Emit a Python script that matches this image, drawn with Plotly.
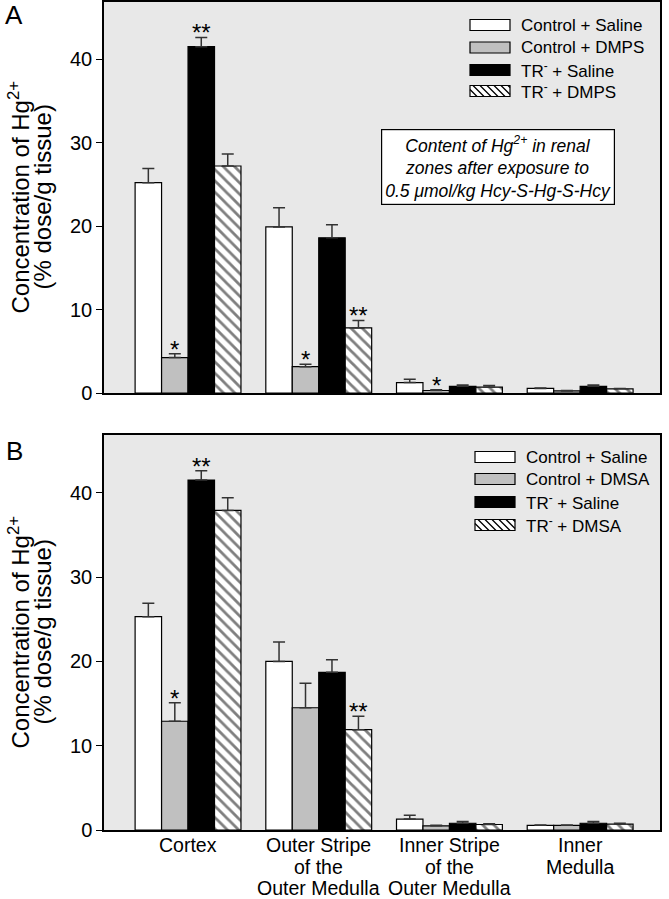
import plotly.graph_objects as go

categories = ["Cortex", "Outer Stripe<br>of the<br>Outer Medulla",
              "Inner Stripe<br>of the<br>Outer Medulla", "Inner<br>Medulla"]
cat_idx = [0, 1, 2, 3]

# Panel A (DMPS)
a_names = ["Control + Saline", "Control + DMPS", "TR<sup>-</sup> + Saline", "TR<sup>-</sup> + DMPS"]
a_ctrl_saline = [25.2, 19.9, 1.25, 0.55]
a_ctrl_saline_err = [1.7, 2.3, 0.4, 0.05]
a_ctrl_dmps = [4.25, 3.15, 0.3, 0.25]
a_ctrl_dmps_err = [0.45, 0.3, 0.1, 0.05]
a_tr_saline = [41.5, 18.6, 0.8, 0.8]
a_tr_saline_err = [1.1, 1.55, 0.15, 0.15]
a_tr_dmps = [27.2, 7.8, 0.7, 0.5]
a_tr_dmps_err = [1.45, 0.9, 0.2, 0.05]
a_stars = [["", "", "", ""], ["*", "*", "*", ""], ["**", "", "", ""], ["", "**", "", ""]]

# Panel B (DMSA)
b_names = ["Control + Saline", "Control + DMSA", "TR<sup>-</sup> + Saline", "TR<sup>-</sup> + DMSA"]
b_ctrl_saline = [25.3, 20.0, 1.3, 0.55]
b_ctrl_saline_err = [1.6, 2.3, 0.45, 0.05]
b_ctrl_dmsa = [12.9, 14.5, 0.5, 0.55]
b_ctrl_dmsa_err = [2.2, 2.9, 0.05, 0.05]
b_tr_saline = [41.5, 18.7, 0.8, 0.8]
b_tr_saline_err = [1.1, 1.5, 0.2, 0.2]
b_tr_dmsa = [37.9, 11.9, 0.65, 0.7]
b_tr_dmsa_err = [1.5, 1.6, 0.1, 0.1]
b_stars = [["", "", "", ""], ["*", "", "", ""], ["**", "", "", ""], ["", "**", "", ""]]

y_ticks = [0, 10, 20, 30, 40]

FONT = "Liberation Sans, Arial, sans-serif"
fills = ["white", "#c0c0c0", "black", "white"]
hatched = [False, False, False, True]

W, H = 669, 899
ML, MR, MT, MB = 104, 9, 2, 69
PW, PH = W - ML - MR, H - MT - MB


def px_x(p):
    return (p - ML) / PW


def px_y(p):
    return (H - MB - p) / PH


fig = go.Figure()

BARGAP = 0.19
nser = 4
bw = (1 - BARGAP) / nser
offsets = [(-(nser - 1) / 2 + j) * bw for j in range(nser)]


def add_panel(names, vals, errs, stars, xa, ya):
    for j in range(4):
        marker = dict(color=fills[j], line=dict(color="black", width=1.2))
        if hatched[j]:
            marker["pattern"] = dict(shape="\\", fgcolor="black", bgcolor="white",
                                     size=8, solidity=0.35)
        fig.add_trace(go.Bar(
            x=cat_idx, y=vals[j], name=names[j], marker=marker,
            xaxis=xa, yaxis=ya, showlegend=False,
            error_y=dict(type="data", symmetric=False, array=errs[j],
                         arrayminus=[0] * 4, color="#333333", thickness=1.5, width=6),
        ))
        for i in range(4):
            if stars[j][i]:
                fig.add_annotation(
                    x=cat_idx[i] + offsets[j], y=vals[j][i] + errs[j][i],
                    xref=xa, yref=ya, text=stars[j][i], showarrow=False,
                    yanchor="bottom", yshift=-11,
                    font=dict(family=FONT, size=24, color="black"))


add_panel(a_names, [a_ctrl_saline, a_ctrl_dmps, a_tr_saline, a_tr_dmps],
          [a_ctrl_saline_err, a_ctrl_dmps_err, a_tr_saline_err, a_tr_dmps_err],
          a_stars, "x", "y")
add_panel(b_names, [b_ctrl_saline, b_ctrl_dmsa, b_tr_saline, b_tr_dmsa],
          [b_ctrl_saline_err, b_ctrl_dmsa_err, b_tr_saline_err, b_tr_dmsa_err],
          b_stars, "x2", "y2")

xr = [-0.643, 3.611]
yr = [0, 46.85]

axis_common = dict(showline=True, linecolor="black", linewidth=1.5, mirror=True,
                   showgrid=False, zeroline=False, automargin=False)

fig.update_layout(
    width=W, height=H,
    margin=dict(l=ML, r=MR, t=MT, b=MB, autoexpand=False),
    paper_bgcolor="white", plot_bgcolor="#e8e8e8",
    barmode="group", bargap=BARGAP, bargroupgap=0,
    font=dict(family=FONT, color="black"),
    showlegend=False,
    xaxis=dict(domain=[0, 1], anchor="y", range=xr, tickvals=cat_idx,
               showticklabels=False, ticks="", **axis_common),
    yaxis=dict(domain=[px_y(393), 1], anchor="x", range=yr, tickvals=y_ticks,
               ticks="outside", ticklen=6, tickcolor="black",
               tickfont=dict(size=20), **axis_common),
    xaxis2=dict(domain=[0, 1], anchor="y2", range=xr, tickvals=cat_idx,
                showticklabels=False, ticks="", **axis_common),
    yaxis2=dict(domain=[0, px_y(435)], anchor="x2", range=yr, tickvals=y_ticks,
                ticks="outside", ticklen=6, tickcolor="black",
                tickfont=dict(size=20), **axis_common),
)

# x category labels (one annotation per line for tight line spacing)
for i, lab in enumerate(categories):
    for k, line in enumerate(lab.split("<br>")):
        fig.add_annotation(x=cat_idx[i], y=0, xref="x2", yref="paper",
                           text=line, showarrow=False, xanchor="center", yanchor="middle",
                           yshift=-(15 + 21.5 * k),
                           font=dict(family=FONT, size=19.5, color="black"))

# y-axis titles
for cy in [(2 + 393) / 2, (435 + 830) / 2]:
    for xc, txt in [(18, "Concentration of Hg<sup>2+</sup>"), (42, "(% dose/g tissue)")]:
        fig.add_annotation(x=px_x(xc), y=px_y(cy), xref="paper", yref="paper",
                           text=txt, textangle=-90, showarrow=False,
                           xanchor="center", yanchor="middle",
                           font=dict(family=FONT, size=24, color="black"))


# custom legends
def add_legend(names, sx0, sx1, tx, rows):
    for j, (nm, ry) in enumerate(zip(names, rows)):
        top, bot = ry - 5.5, ry + 5.5
        fig.add_shape(type="rect", xref="paper", yref="paper",
                      x0=px_x(sx0), x1=px_x(sx1), y0=px_y(bot), y1=px_y(top),
                      fillcolor=fills[j], line=dict(color="black", width=1.2), layer="above")
        if hatched[j]:
            h = bot - top
            path = ""
            t = sx0 - h
            while t < sx1:
                xs, ys = t, top
                xe, ye = t + h, bot
                if xs < sx0:
                    ys = top + (sx0 - xs)
                    xs = sx0
                if xe > sx1:
                    ye = bot - (xe - sx1)
                    xe = sx1
                if xe > xs:
                    path += f"M{px_x(xs)},{px_y(ys)} L{px_x(xe)},{px_y(ye)} "
                t += 7
            fig.add_shape(type="path", xref="paper", yref="paper", path=path,
                          line=dict(color="black", width=1.3), layer="above")
        fig.add_annotation(x=px_x(tx), y=px_y(ry), xref="paper", yref="paper",
                           text=nm, showarrow=False, xanchor="left", yanchor="middle",
                           font=dict(family=FONT, size=17, color="black"))


add_legend(a_names, 470, 510, 519, [25, 47.5, 70, 91])
add_legend(b_names, 475, 515, 524, [457, 479, 502, 525])

fig.add_annotation(
    xref="paper", yref="paper", x=px_x(497.5), y=px_y(167), xanchor="center", yanchor="middle",
    text="<i>Content of Hg<sup>2+</sup> in renal<br>zones after exposure to<br>0.5 \u03bcmol/kg Hcy-S-Hg-S-Hcy</i>",
    showarrow=False, bgcolor="white", bordercolor="black", borderwidth=1.2, borderpad=3,
    font=dict(family=FONT, size=17.5, color="black"), align="center")

fig.add_annotation(xref="paper", yref="paper", x=px_x(14), y=px_y(15), xanchor="center",
                   yanchor="middle", text="A", showarrow=False,
                   font=dict(family=FONT, size=26, color="black"))
fig.add_annotation(xref="paper", yref="paper", x=px_x(14), y=px_y(451), xanchor="center",
                   yanchor="middle", text="B", showarrow=False,
                   font=dict(family=FONT, size=26, color="black"))

fig.write_html("out.html", config={"displayModeBar": False},
               post_script="document.body.style.margin='0';document.body.style.overflow='hidden';")
